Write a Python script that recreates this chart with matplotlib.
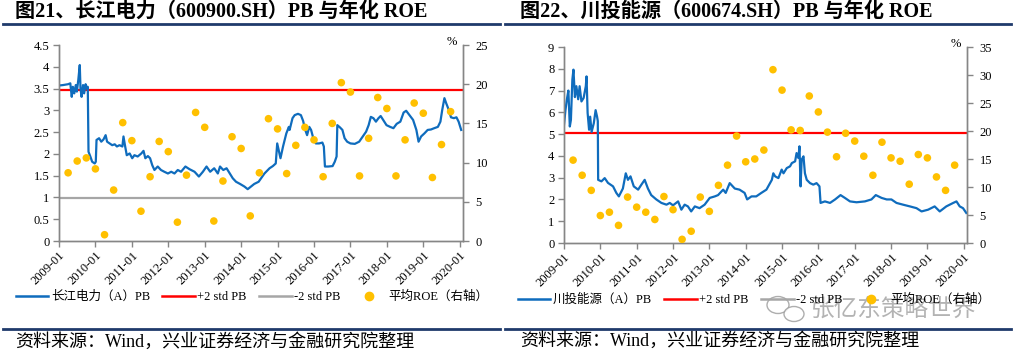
import matplotlib
matplotlib.use("Agg")
import matplotlib.pyplot as plt
from matplotlib.lines import Line2D
from matplotlib.patches import Ellipse
import numpy as np

# ---- data: 长江电力 ----
cj_pb_t = [2009.0, 2009.11, 2009.25, 2009.31, 2009.35, 2009.38, 2009.42, 2009.46, 2009.49, 2009.53,
           2009.57, 2009.59, 2009.62, 2009.66, 2009.69, 2009.73, 2009.77, 2009.79, 2009.81, 2009.86,
           2009.91, 2009.98, 2010.01, 2010.03, 2010.1, 2010.16, 2010.22, 2010.28, 2010.32, 2010.39,
           2010.46, 2010.53, 2010.59, 2010.66, 2010.74, 2010.77, 2010.81, 2010.86, 2010.94, 2011.01,
           2011.07, 2011.16, 2011.26, 2011.32, 2011.37, 2011.44, 2011.5, 2011.56, 2011.62, 2011.71,
           2011.8, 2011.89, 2011.99, 2012.08, 2012.17, 2012.26, 2012.35, 2012.47, 2012.58, 2012.72,
           2012.84, 2012.95, 2013.05, 2013.15, 2013.26, 2013.36, 2013.42, 2013.51, 2013.6, 2013.69,
           2013.77, 2013.86, 2013.97, 2014.09, 2014.18, 2014.27, 2014.36, 2014.48, 2014.64, 2014.78,
           2014.87, 2014.95, 2014.99, 2015.03, 2015.08, 2015.15, 2015.24, 2015.31, 2015.33, 2015.41,
           2015.47, 2015.56, 2015.64, 2015.7, 2015.76, 2015.81, 2015.87, 2015.92, 2015.98, 2016.05,
           2016.14, 2016.23, 2016.27, 2016.3, 2016.39, 2016.51, 2016.57, 2016.62, 2016.64, 2016.71,
           2016.78, 2016.84, 2016.91, 2017.0, 2017.12, 2017.24, 2017.34, 2017.43, 2017.5, 2017.56,
           2017.63, 2017.7, 2017.77, 2017.83, 2017.9, 2017.99, 2018.09, 2018.18, 2018.27, 2018.37,
           2018.46, 2018.53, 2018.62, 2018.72, 2018.81, 2018.87, 2018.94, 2019.03, 2019.12, 2019.21,
           2019.3, 2019.4, 2019.47, 2019.52, 2019.58, 2019.63, 2019.7, 2019.76, 2019.84, 2019.91,
           2019.97, 2020.04]
cj_pb = [3.57, 3.58, 3.6, 3.62, 3.31, 3.54, 3.39, 3.58, 3.43, 3.7,
         4.04, 3.5, 3.31, 3.58, 3.39, 3.6, 3.5, 3.54, 2.05, 1.94,
         1.82, 1.78, 1.82, 2.32, 2.36, 2.28, 2.33, 2.43, 2.28, 2.24,
         2.2, 2.22, 2.17, 2.2, 2.17, 2.4, 2.2, 1.97, 2.01, 1.9,
         1.97, 1.94, 2.01, 2.07, 1.9, 1.95, 1.9, 1.74, 1.63, 1.71,
         1.63, 1.59, 1.55, 1.59, 1.55, 1.63, 1.59, 1.71, 1.65, 1.59,
         1.48, 1.59, 1.71, 1.59, 1.67, 1.55, 1.71, 1.63, 1.67, 1.55,
         1.44, 1.36, 1.31, 1.25, 1.19, 1.25, 1.31, 1.36, 1.55, 1.67,
         1.72, 1.78, 2.24, 2.09, 1.9, 2.17, 2.47, 2.62, 2.55, 2.82,
         2.89, 2.92, 2.89, 2.76, 2.55, 2.43, 2.62, 2.55, 2.36, 2.24,
         2.24, 2.26, 2.17, 1.71, 1.71, 1.72, 1.82, 1.94, 2.66, 2.61,
         2.55, 2.36, 2.28, 2.24, 2.23, 2.28, 2.4, 2.51, 2.66, 2.85,
         2.82, 2.74, 2.82, 2.87, 2.78, 2.66, 2.62, 2.59, 2.69, 2.74,
         2.95, 2.99, 2.89, 2.78, 2.55, 2.28, 2.4, 2.47, 2.55, 2.56,
         2.59, 2.62, 2.74, 3.01, 3.28, 3.16, 3.01, 2.84, 2.82, 2.84,
         2.74, 2.55]
cj_plus2 = 3.46
cj_minus2 = 0.99
cj_roe = [8.7, 10.2, 10.6, 9.2, 0.8, 6.5, 15.1, 12.8, 3.8, 8.2,
          12.7, 11.4, 2.4, 8.4, 16.4, 14.5, 2.55, 7.65, 13.3, 11.8,
          3.2, 8.7, 15.6, 14.3, 8.6, 12.2, 14.5, 12.9, 8.2, 15.0,
          20.2, 19.0, 8.3, 13.1, 18.3, 16.9, 8.3, 12.9, 17.6, 16.3,
          8.1, 12.3, 16.5]

# ---- data: 川投能源 ----
ct_pb_t = [2009.0, 2009.04, 2009.08, 2009.12, 2009.16, 2009.19, 2009.23, 2009.26, 2009.3, 2009.34,
           2009.39, 2009.43, 2009.48, 2009.54, 2009.6, 2009.62, 2009.65, 2009.69, 2009.72, 2009.76,
           2009.82, 2009.87, 2009.91, 2009.93, 2009.94, 2010.03, 2010.12, 2010.21, 2010.35, 2010.44,
           2010.51, 2010.62, 2010.7, 2010.76, 2010.83, 2010.92, 2011.04, 2011.13, 2011.22, 2011.31,
           2011.4, 2011.54, 2011.68, 2011.82, 2011.91, 2012.0, 2012.14, 2012.23, 2012.32, 2012.41,
           2012.5, 2012.6, 2012.73, 2012.87, 2013.01, 2013.15, 2013.24, 2013.38, 2013.45, 2013.56,
           2013.7, 2013.83, 2013.97, 2014.04, 2014.16, 2014.29, 2014.43, 2014.57, 2014.72, 2014.76,
           2014.81, 2014.9, 2014.99, 2015.04, 2015.13, 2015.22, 2015.27, 2015.36, 2015.4, 2015.45,
           2015.48, 2015.51, 2015.54, 2015.59, 2015.63, 2015.68, 2015.77, 2015.86, 2015.95, 2016.03,
           2016.06, 2016.18, 2016.32, 2016.46, 2016.61, 2016.73, 2016.87, 2017.05, 2017.28, 2017.46,
           2017.58, 2017.74, 2017.88, 2018.01, 2018.15, 2018.33, 2018.52, 2018.7, 2018.84, 2019.02,
           2019.2, 2019.34, 2019.52, 2019.71, 2019.8, 2019.89, 2019.98, 2020.07]
ct_pb = [5.43, 6.1, 6.6, 7.0, 5.35, 5.65, 7.5, 7.96, 6.7, 7.2,
         6.6, 7.2, 6.5, 6.66, 7.2, 7.65, 5.97, 5.2, 5.8, 5.1,
         5.5, 6.1, 5.8, 5.6, 2.9, 2.83, 2.98, 2.76, 2.6, 2.3,
         2.14, 2.5, 3.2, 2.9, 3.06, 2.6, 2.45, 2.68, 2.9, 2.5,
         2.2, 2.0, 1.84, 1.76, 1.84, 1.73, 1.91, 1.53, 1.76, 1.68,
         1.45, 1.68, 1.6, 1.76, 2.07, 2.14, 2.2, 2.45, 2.3, 2.75,
         2.5, 2.45, 2.3, 2.0, 2.14, 2.14, 2.3, 2.45, 2.9, 3.2,
         3.06, 2.98, 3.37, 3.2, 3.44, 3.52, 3.67, 3.75, 4.13, 3.9,
         4.44, 2.6, 3.83, 3.98, 3.2, 2.9, 2.75, 2.68, 2.75, 2.6,
         1.84, 1.91, 1.84, 2.0, 2.2, 2.07, 1.91, 1.87, 1.91, 2.0,
         2.2, 2.07, 2.0, 2.0, 1.84, 1.76, 1.68, 1.6, 1.45, 1.53,
         1.68, 1.45, 1.68, 1.84, 1.91, 1.68, 1.6, 1.38]
ct_plus2 = 5.05
ct_roe = [14.8, 12.1, 9.4, 4.9, 5.5, 3.15, 8.2, 6.4, 5.5, 4.2,
          8.3, 5.95, 0.65, 2.1, 8.2, 5.65, 10.3, 13.9, 19.1, 14.5,
          15.0, 16.6, 30.95, 27.3, 20.2, 20.1, 26.25, 23.4, 19.8, 15.4,
          19.6, 18.2, 15.5, 12.1, 18.0, 15.2, 14.6, 10.5, 15.8, 15.2,
          11.8, 9.4, 13.9]

# quarter ends 2009Q1 .. 2019Q3
roe_t = [2009.25 + 0.25 * i for i in range(len(cj_roe))]
year_ticks = list(range(2009, 2021))
year_labels = ["%d-01" % y for y in year_ticks]

BLUE = "#0f6cbd"
RED = "#ff0000"
GRAY = "#a6a6a6"
GOLD = "#ffc000"
NAVY = "#1f3a6b"
AX = "#868686"
SERIF = ["Liberation Serif", "Noto Sans CJK SC"]


def style_axes(ax, ax2, ymax, ystep, ymax2, ystep2):
    ax.set_xlim(2009.0, 2020.09)
    ax.set_ylim(0, ymax)
    ax2.set_ylim(0, ymax2)
    ax.set_yticks(np.arange(0, ymax + 0.01, ystep))
    ax2.set_yticks(np.arange(0, ymax2 + 0.01, ystep2))
    ax.set_yticklabels(["%g" % v for v in np.arange(0, ymax + 0.01, ystep)])
    ax2.set_yticklabels(["%g" % v for v in np.arange(0, ymax2 + 0.01, ystep2)])
    ax.set_xticks(year_ticks)
    ax.set_xticklabels(year_labels, rotation=45, ha="right", va="top",
                       rotation_mode="anchor")
    for a in (ax, ax2):
        a.spines["top"].set_visible(False)
        for s in ("left", "right", "bottom"):
            a.spines[s].set_color(AX)
            a.spines[s].set_linewidth(1.0)
        a.tick_params(colors=AX, labelcolor="black", length=4, width=1.0,
                      labelsize=9)
        for lab in a.get_xticklabels() + a.get_yticklabels():
            lab.set_family(SERIF)
    ax.tick_params(axis="y", pad=3)
    ax2.tick_params(axis="y", pad=5)
    ax.tick_params(axis="x", pad=2)


def panel(rect, t, pb, plus2, minus2, roe, ymax, ystep, ymax2, ystep2, name):
    ax = fig.add_axes(rect)
    ax2 = ax.twinx()
    ax.plot(t, pb, color=BLUE, lw=1.6, zorder=3)
    ax.axhline(plus2, color=RED, lw=1.6, zorder=2)
    if minus2 is not None:
        ax.axhline(minus2, color=GRAY, lw=1.6, zorder=2)
    ax2.scatter(roe_t, roe, s=30, color=GOLD, edgecolors="none", zorder=4)
    style_axes(ax, ax2, ymax, ystep, ymax2, ystep2)
    ax2.annotate("%", xy=(1.0, 1.0), xycoords="axes fraction", xytext=(-4, 2),
                 textcoords="offset points", ha="right", va="center",
                 fontsize=9, family=SERIF)
    handles = [Line2D([], [], color=BLUE, lw=1.8),
               Line2D([], [], color=RED, lw=1.8),
               Line2D([], [], color=GRAY, lw=1.8),
               Line2D([], [], color=GOLD, marker="o", ls="none", ms=6)]
    labels = [name + "（A）PB", "+2 std PB", "-2 std PB", "平均ROE（右轴）"]
    return ax, ax2, handles, labels


fig = plt.figure(figsize=(10.14, 3.54), dpi=100)
W, H = 1014.0, 354.0

axL, axL2, hL, lL = panel([59 / W, 1 - 241 / H, 404 / W, 196 / H], cj_pb_t, cj_pb,
                          cj_plus2, cj_minus2, cj_roe, 4.5, 0.5, 25, 5, "长江电力")
axR, axR2, hR, lR = panel([564 / W, 1 - 243 / H, 403 / W, 196 / H], ct_pb_t, ct_pb,
                          ct_plus2, None, ct_roe, 9, 1, 35, 5, "川投能源")

for h, l, cx, cy in ((hL, lL, 252 / W, 1 - 297 / H), (hR, lR, 754 / W, 1 - 300 / H)):
    fig.legend(h, l, loc="center", bbox_to_anchor=(cx, cy), ncol=4, frameon=False,
               prop={"family": SERIF, "size": 9}, handlelength=2.6,
               handletextpad=0.2, columnspacing=1.0, borderaxespad=0)

# titles and frame lines
fig.text(15 / W, 1 - 12 / H, "图21、长江电力（600900.SH）PB 与年化 ROE",
         ha="left", va="center", fontsize=14.5, fontweight="bold", family=SERIF)
fig.text(520 / W, 1 - 12 / H, "图22、川投能源（600674.SH）PB 与年化 ROE",
         ha="left", va="center", fontsize=14.5, fontweight="bold", family=SERIF)
for x0, x1 in ((3, 500), (505, 1011)):
    fig.add_artist(Line2D([x0 / W, x1 / W], [1 - 24 / H, 1 - 24 / H], color=NAVY, lw=2))
    fig.add_artist(Line2D([x0 / W, x1 / W], [1 - 329 / H, 1 - 329 / H], color=NAVY, lw=2))
fig.text(15 / W, 1 - 342 / H, "资料来源：Wind，兴业证券经济与金融研究院整理",
         ha="left", va="center", fontsize=13, family=SERIF)
fig.text(520 / W, 1 - 341 / H, "资料来源：Wind，兴业证券经济与金融研究院整理",
         ha="left", va="center", fontsize=13, family=SERIF)

# watermark
fig.text(894 / W, 1 - 309 / H, "张亿东策略世界", ha="center", va="center",
         fontsize=17, color="#9a9a9a", alpha=0.75, family=SERIF)
fig.add_artist(Ellipse((778 / W, 1 - 305 / H), 22 / W, 17 / H, fill=False,
                       ec="#9a9a9a", lw=1, alpha=0.8))
fig.add_artist(Ellipse((794 / W, 1 - 314 / H), 20 / W, 15 / H, fc="white",
                       ec="#9a9a9a", lw=1, alpha=0.8))

fig.savefig("out.png", dpi=100)
